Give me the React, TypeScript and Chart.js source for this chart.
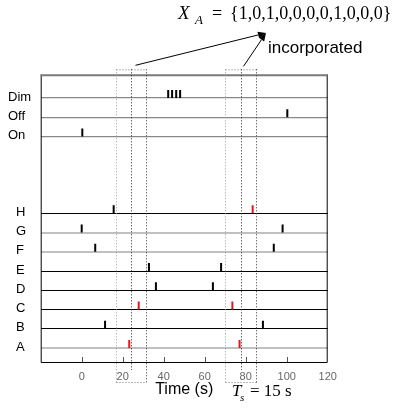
import React, { useEffect, useRef } from 'react';
import { Chart, registerables } from 'chart.js';

Chart.register(...registerables);

// ---- data ----
const rowNames = ['A', 'B', 'C', 'D', 'E', 'F', 'G', 'H', 'On', 'Off', 'Dim'];
const rowValues = [1, 2, 3, 4, 5, 6, 7, 8, 12, 13, 14];
const spikesA = [23.2, 77];
const spikesB = [11.4, 88.4];
const spikesC = [27.8, 73.5];
const spikesD = [36.2, 64];
const spikesE = [32.8, 68];
const spikesF = [6.6, 93.7];
const spikesG = [0, 98];
const spikesH = [15.6, 83.4];
const spikesOn = [0.3];
const spikesOff = [100.3];
const spikesDim = [42.2, 44.1, 46.1, 48];
const spikeRows = [spikesA, spikesB, spikesC, spikesD, spikesE, spikesF, spikesG, spikesH, spikesOn, spikesOff, spikesDim];
const windowStarts = [16.5, 70];
const Ts = 15;
const xTickValues = [-20, 0, 20, 40, 60, 80, 100, 120];
const titleSet = '{1,0,1,0,0,0,0,1,0,0,0}';

// ---- styles ----
const SANS = '"Liberation Sans", Arial, sans-serif';
const SERIF = '"Liberation Serif", "Times New Roman", serif';
const RED = '#e3141b';
const SPIKE_OFFSET = 0.21;
const rowLineColor: Record<string, string> = {
  A: '#c0c0c0', B: '#000', C: '#000', D: '#000', E: '#000', F: '#c0c0c0', G: '#c0c0c0', H: '#000',
  On: '#888', Off: '#888', Dim: '#888',
};
const rowLineWidth: Record<string, number> = {
  A: 2, B: 1, C: 1, D: 1, E: 1, F: 2, G: 2, H: 1, On: 1.3, Off: 1.3, Dim: 1.3,
};

const inWindow = (t: number) => windowStarts.some((s) => t >= s && t <= s + Ts);

const nameForValue = (v: number) => rowNames[rowValues.indexOf(v)];

const decorPlugin = {
  id: 'decor',
  afterDraw(chart: any) {
    const { ctx, chartArea, scales } = chart;
    const xs = scales.x;
    const ys = scales.y;
    const { left, right, top, bottom } = chartArea;
    ctx.save();

    // frame
    ctx.setLineDash([]);
    ctx.strokeStyle = '#000';
    ctx.lineWidth = 1;
    ctx.beginPath();
    ctx.moveTo(left + 0.5, top);
    ctx.lineTo(left + 0.5, bottom + 0.5);
    ctx.lineTo(right - 0.5, bottom + 0.5);
    ctx.lineTo(right - 0.5, top);
    ctx.stroke();
    ctx.strokeStyle = '#7a7a7a';
    ctx.lineWidth = 2;
    ctx.beginPath();
    ctx.moveTo(left, top + 1);
    ctx.lineTo(right, top + 1);
    ctx.stroke();

    // inner tick marks
    ctx.strokeStyle = '#555';
    ctx.lineWidth = 1;
    xTickValues.forEach((v) => {
      if (v <= xs.min || v >= xs.max) return;
      const px = Math.round(xs.getPixelForValue(v)) + 0.5;
      ctx.beginPath();
      ctx.moveTo(px, bottom);
      ctx.lineTo(px, bottom - 5);
      ctx.stroke();
    });

    // row labels
    ctx.fillStyle = '#000';
    ctx.font = `13px ${SANS}`;
    ctx.textBaseline = 'middle';
    ctx.textAlign = 'left';
    rowValues.forEach((v, i) => {
      const py = ys.getPixelForValue(v) - 1;
      const lx = v >= 10 ? 8 : 16;
      ctx.fillText(rowNames[i], lx, py);
    });

    // windows
    ctx.lineWidth = 1;
    ctx.setLineDash([1, 2]);
    const wTop = top - 5;
    const wBottom = bottom + 21;
    const centers: number[] = [];
    windowStarts.forEach((s) => {
      const x1 = Math.round(xs.getPixelForValue(s)) + 0.5;
      const x2 = Math.round(xs.getPixelForValue(s + Ts)) + 0.5;
      const xc = Math.round(xs.getPixelForValue(s + Ts / 2)) + 0.5;
      centers.push(xc);
      ctx.strokeStyle = '#9a9a9a';
      ctx.beginPath();
      ctx.moveTo(x1, wTop); ctx.lineTo(x1, wBottom); ctx.stroke();
      ctx.strokeStyle = '#777';
      ctx.beginPath();
      ctx.moveTo(x1, wTop + 0.5); ctx.lineTo(x2, wTop + 0.5); ctx.stroke();
      ctx.beginPath();
      ctx.moveTo(x1, wBottom - 0.5); ctx.lineTo(x2, wBottom - 0.5); ctx.stroke();
      ctx.strokeStyle = '#333';
      ctx.beginPath();
      ctx.moveTo(x2, wTop); ctx.lineTo(x2, wBottom); ctx.stroke();
      ctx.strokeStyle = '#222';
      ctx.beginPath();
      ctx.moveTo(xc, wTop); ctx.lineTo(xc, bottom + 8); ctx.stroke();
    });
    ctx.setLineDash([]);

    // arrows
    const tipX = 266, tipY = 33;
    ctx.strokeStyle = '#000';
    ctx.fillStyle = '#000';
    ctx.lineWidth = 1;
    centers.forEach((xc, i) => {
      const sx = xc + (i === 0 ? 4 : 2);
      const sy = wTop - (i === 0 ? 4 : 3);
      const ang = Math.atan2(tipY - sy, tipX - sx);
      const hl = 8, hw = 3.2;
      const bx = tipX - hl * Math.cos(ang);
      const by = tipY - hl * Math.sin(ang);
      ctx.beginPath();
      ctx.moveTo(sx, sy);
      ctx.lineTo(bx, by);
      ctx.stroke();
      ctx.beginPath();
      ctx.moveTo(tipX, tipY);
      ctx.lineTo(bx + hw * Math.sin(ang), by - hw * Math.cos(ang));
      ctx.lineTo(bx - hw * Math.sin(ang), by + hw * Math.cos(ang));
      ctx.closePath();
      ctx.fill();
    });

    // texts
    ctx.textBaseline = 'alphabetic';
    ctx.fillStyle = '#000';
    ctx.font = `17px ${SANS}`;
    ctx.fillText('incorporated', 268, 53);

    ctx.font = `italic 19px ${SERIF}`;
    ctx.fillText('X', 178, 19);
    ctx.font = `italic 13px ${SERIF}`;
    ctx.fillText('A', 195, 24);
    ctx.font = `18px ${SERIF}`;
    ctx.fillText('=', 212, 19);
    ctx.fillText(titleSet, 230, 19);

    ctx.font = `italic 17px ${SERIF}`;
    ctx.fillText('T', 232, 396);
    ctx.font = `italic 11px ${SERIF}`;
    ctx.fillText('s', 240, 401);
    ctx.font = `17px ${SERIF}`;
    ctx.fillText('= 15 s', 250, 396);

    ctx.restore();
  },
};

export default function App() {
  const ref = useRef<HTMLCanvasElement>(null);
  useEffect(() => {
    const canvas = ref.current;
    if (!canvas) return;
    const datasets = spikeRows.map((times, i) => ({
      label: rowNames[i],
      data: times.map((t) => ({ x: t, y: rowValues[i] + SPIKE_OFFSET })),
      pointStyle: 'line' as const,
      pointRotation: 90,
      pointRadius: 4,
      pointHoverRadius: 4,
      pointBorderWidth: 2,
      pointBorderColor: times.map((t) => (inWindow(t) ? RED : '#000')),
      pointBackgroundColor: times.map((t) => (inWindow(t) ? RED : '#000')),
      showLine: false,
    }));
    const chart = new Chart(canvas, {
      type: 'scatter',
      data: { datasets },
      options: {
        animation: false,
        responsive: false,
        maintainAspectRatio: false,
        events: [],
        layout: { padding: { left: 40.7, right: 74.3, top: 74.3, bottom: 0 } },
        plugins: { legend: { display: false }, tooltip: { enabled: false } },
        scales: {
          x: {
            type: 'linear',
            min: -20,
            max: 120,
            afterBuildTicks: (s: any) => {
              s.ticks = xTickValues.map((v) => ({ value: v }));
            },
            ticks: {
              color: '#666',
              font: { family: SANS, size: 11 },
              padding: 8,
              maxRotation: 0,
              autoSkip: false,
              callback: (v: any) => (Number(v) < 0 ? '' : String(v)),
            },
            grid: { display: false, drawTicks: false },
            border: { display: false },
            title: {
              display: true,
              text: 'Time (s)',
              color: '#000',
              font: { family: SANS, size: 16 },
              padding: { top: 0, bottom: 10 },
            },
            afterFit: (s: any) => {
              s.height = 47;
            },
          },
          y: {
            type: 'linear',
            min: 0.27,
            max: 15.23,
            afterBuildTicks: (s: any) => {
              s.ticks = rowValues.map((v) => ({ value: v }));
            },
            ticks: { display: false },
            grid: {
              drawTicks: false,
              color: (c: any) => rowLineColor[nameForValue(c.tick?.value)] || '#888',
              lineWidth: (c: any) => rowLineWidth[nameForValue(c.tick?.value)] || 1,
            },
            border: { display: false },
            afterFit: (s: any) => {
              s.width = 0;
            },
          },
        },
      },
      plugins: [decorPlugin],
    });
    return () => chart.destroy();
  }, []);
  return (
    <div style={{ position: 'fixed', left: 0, top: 0, width: 402, height: 409, background: '#fff' }}>
      <canvas ref={ref} width={402} height={409} style={{ width: 402, height: 409, display: 'block' }} />
    </div>
  );
}
